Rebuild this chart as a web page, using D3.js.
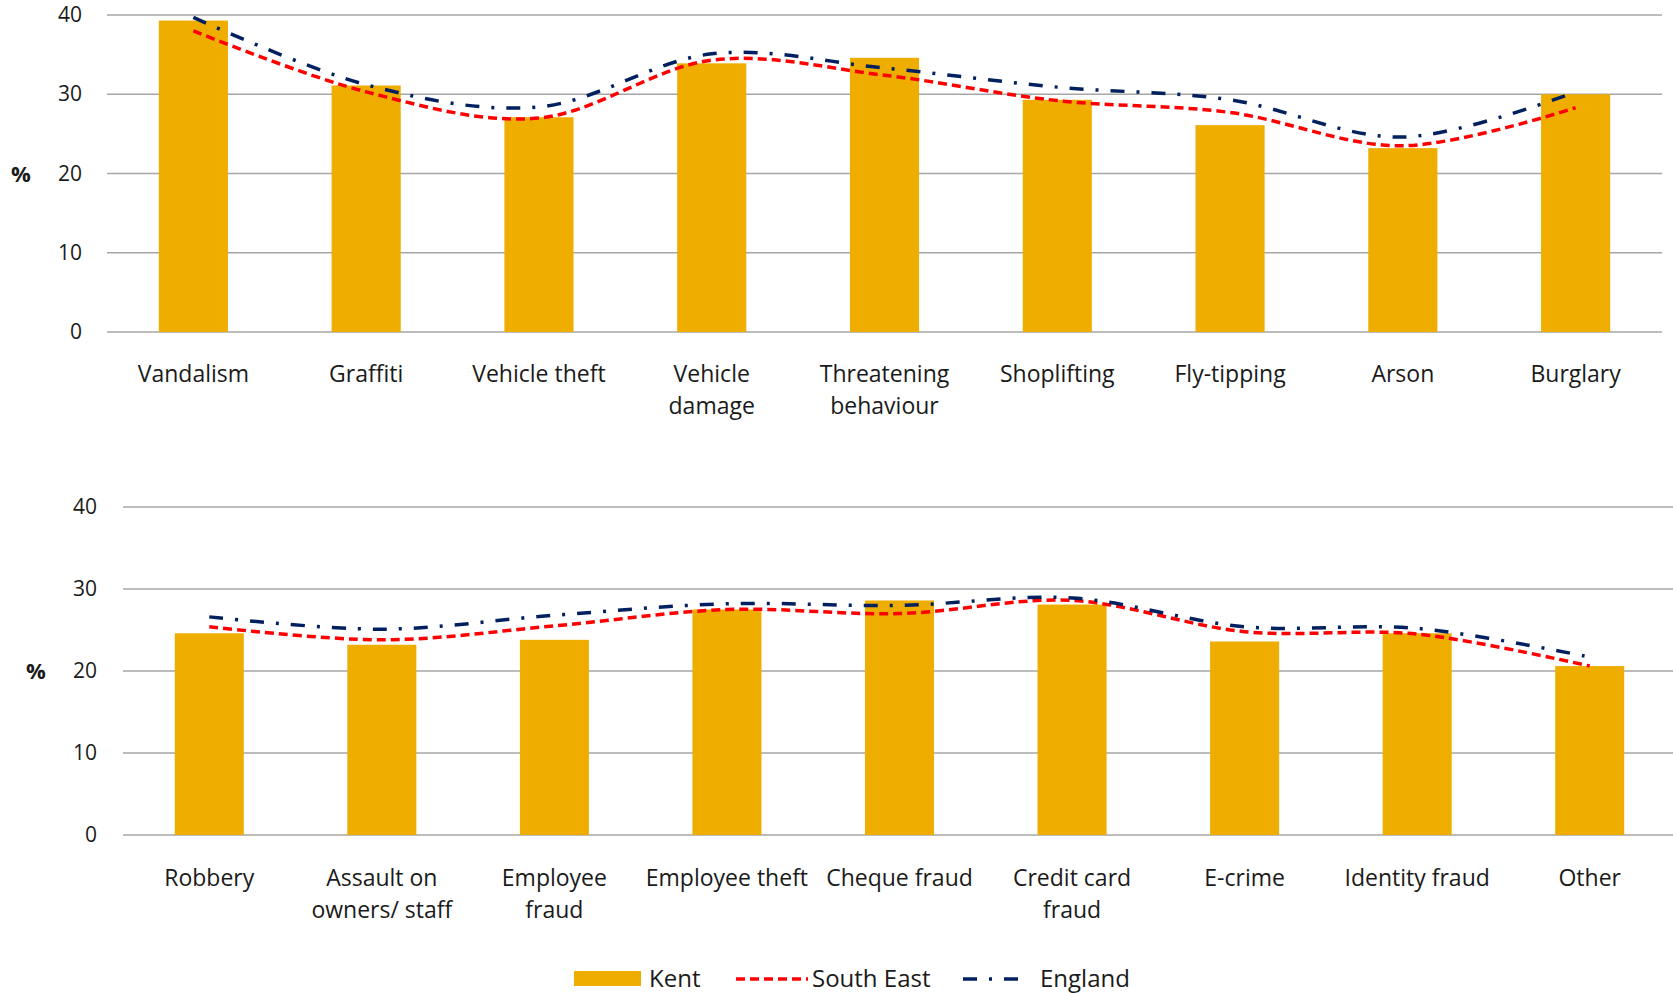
<!DOCTYPE html>
<html>
<head>
<meta charset="utf-8">
<script src="https://cdn.jsdelivr.net/npm/d3@7"></script>
<style>
  body { margin: 0; background: #fff; }
  text { font-family: "Open Sans", sans-serif; fill: #1a1a1a; }
</style>
</head>
<body>
<div id="chart"></div>
<script>
// top panel
var topCategories = ["Vandalism", "Graffiti", "Vehicle theft", "Vehicle\ndamage", "Threatening\nbehaviour",
  "Shoplifting", "Fly-tipping", "Arson", "Burglary"];
var topKent = [39.3, 31.1, 27.1, 33.9, 34.6, 29.3, 26.1, 23.2, 30.0];
var topSouthEast = [38.0, 30.3, 27.0, 34.3, 32.4, 29.2, 27.7, 23.5, 28.3];
var topEngland = [39.7, 31.2, 28.4, 35.1, 33.3, 30.9, 29.3, 24.6, 30.3];

// bottom panel
var bottomCategories = ["Robbery", "Assault on\nowners/ staff", "Employee\nfraud", "Employee theft", "Cheque fraud",
  "Credit card\nfraud", "E-crime", "Identity fraud", "Other"];
var bottomKent = [24.6, 23.2, 23.8, 27.5, 28.6, 28.1, 23.6, 24.6, 20.6];
var bottomSouthEast = [25.4, 23.8, 25.5, 27.5, 27.0, 28.6, 24.8, 24.5, 20.6];
var bottomEngland = [26.6, 25.1, 26.8, 28.2, 28.0, 28.9, 25.4, 25.2, 21.7];

var yTicks = [0, 10, 20, 30, 40];
var seriesNames = ["Kent", "South East", "England"];

var width = 1673, height = 993;
var barColor = "#EFAD00", seColor = "#FF0000", engColor = "#002060";

var svg = d3.select("#chart").append("svg")
  .attr("width", width)
  .attr("height", height);

function drawPanel(cfg) {
  var x = d3.scaleBand()
    .domain(cfg.categories)
    .range([cfg.left, cfg.right])
    .paddingInner(0.6)
    .paddingOuter(0.3);

  var y = d3.scaleLinear()
    .domain([0, 40])
    .range([cfg.bottom, cfg.top]);

  var g = svg.append("g");

  // gridlines
  g.selectAll(".grid")
    .data(yTicks)
    .enter().append("line")
    .attr("x1", cfg.left)
    .attr("x2", cfg.right)
    .attr("y1", d => y(d))
    .attr("y2", d => y(d))
    .style("stroke", "#A6A6A6")
    .style("stroke-width", 1.5);

  // y labels
  g.selectAll(".ytick")
    .data(yTicks)
    .enter().append("text")
    .attr("x", cfg.tickX)
    .attr("y", d => y(d) + 7)
    .attr("text-anchor", "end")
    .style("font-size", "21px")
    .text(d => d);

  g.append("text")
    .attr("x", cfg.pctX)
    .attr("y", y(20) + 8)
    .attr("text-anchor", "middle")
    .style("font-size", "22px")
    .style("font-weight", "bold")
    .text("%");

  // bars
  g.selectAll(".bar")
    .data(cfg.kent)
    .enter().append("rect")
    .attr("x", (d, i) => x(cfg.categories[i]))
    .attr("y", d => y(d))
    .attr("width", x.bandwidth())
    .attr("height", d => y(0) - y(d))
    .style("fill", barColor);

  var cx = function(i) { return x(cfg.categories[i]) + x.bandwidth() / 2; };
  var line = d3.line()
    .x((d, i) => cx(i))
    .y(d => y(d))
    .curve(d3.curveCatmullRom.alpha(0));

  g.append("path")
    .attr("d", line(cfg.southEast))
    .style("fill", "none")
    .style("stroke", seColor)
    .style("stroke-width", 3.5)
    .style("stroke-dasharray", "9,5");

  g.append("path")
    .attr("d", line(cfg.england))
    .style("fill", "none")
    .style("stroke", engColor)
    .style("stroke-width", 3.5)
    .style("stroke-dasharray", "14,12,3,12");

  // x labels
  var lab = g.selectAll(".xlab")
    .data(cfg.categories)
    .enter().append("text")
    .attr("text-anchor", "middle")
    .style("font-size", "23px");
  lab.selectAll("tspan")
    .data(d => d.split("\n").map(s => ({ s: s, c: d })))
    .enter().append("tspan")
    .attr("x", d => x(d.c) + x.bandwidth() / 2)
    .attr("y", (d, i) => cfg.labelY + i * 32)
    .text(d => d.s);
}

drawPanel({
  categories: topCategories, kent: topKent, southEast: topSouthEast, england: topEngland,
  left: 107, right: 1662, top: 15, bottom: 332, tickX: 82, pctX: 21, labelY: 382
});

drawPanel({
  categories: bottomCategories, kent: bottomKent, southEast: bottomSouthEast, england: bottomEngland,
  left: 123, right: 1676, top: 507, bottom: 835, tickX: 97, pctX: 36, labelY: 886
});

// legend
var legend = svg.append("g");
legend.append("rect")
  .attr("x", 574).attr("y", 971)
  .attr("width", 67).attr("height", 15)
  .style("fill", barColor);
legend.append("line")
  .attr("x1", 736).attr("x2", 808).attr("y1", 979).attr("y2", 979)
  .style("stroke", seColor).style("stroke-width", 3.5)
  .style("stroke-dasharray", "9,5");
legend.append("line")
  .attr("x1", 963).attr("x2", 1022).attr("y1", 979).attr("y2", 979)
  .style("stroke", engColor).style("stroke-width", 3.5)
  .style("stroke-dasharray", "14,12,3,12");
legend.selectAll(".ltext")
  .data(seriesNames)
  .enter().append("text")
  .attr("x", (d, i) => [649, 812, 1040][i])
  .attr("y", 987)
  .style("font-size", "24px")
  .text(d => d);
</script>
</body>
</html>
